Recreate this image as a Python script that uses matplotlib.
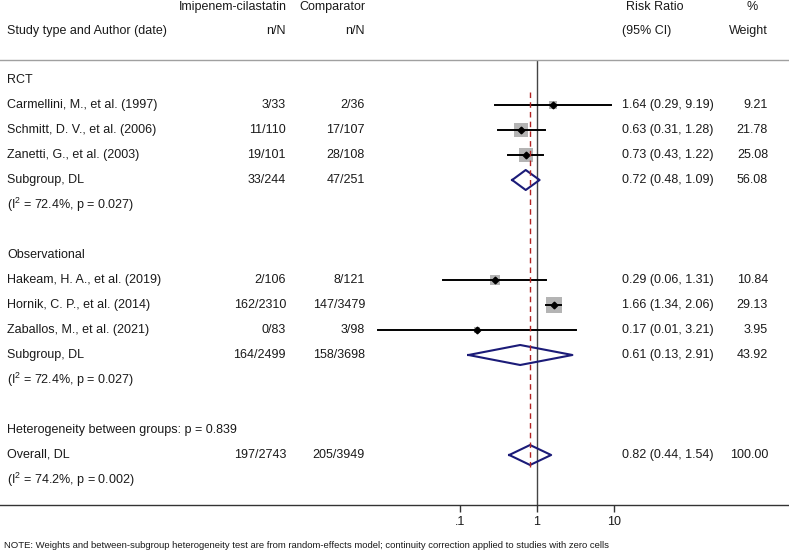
import numpy as np
import matplotlib
matplotlib.use("Agg")
import matplotlib.pyplot as plt
from matplotlib.transforms import blended_transform_factory

plt.rcParams['font.family'] = 'Liberation Sans'
plt.rcParams['mathtext.fontset'] = 'custom'
plt.rcParams['mathtext.rm'] = 'Liberation Sans'
plt.rcParams['mathtext.default'] = 'regular'

# study level data
groups = ["RCT", "Observational"]
study_labels = [["Carmellini, M., et al. (1997)", "Schmitt, D. V., et al. (2006)", "Zanetti, G., et al. (2003)"],
                ["Hakeam, H. A., et al. (2019)", "Hornik, C. P., et al. (2014)", "Zaballos, M., et al. (2021)"]]
imi_nN = [["3/33", "11/110", "19/101"], ["2/106", "162/2310", "0/83"]]
comp_nN = [["2/36", "17/107", "28/108"], ["8/121", "147/3479", "3/98"]]
rr = [[1.64, 0.63, 0.73], [0.29, 1.66, 0.17]]
rr_lo = [[0.29, 0.31, 0.43], [0.06, 1.34, 0.0086]]
rr_hi = [[9.19, 1.28, 1.22], [1.31, 2.06, 3.21]]
weight = [[9.21, 21.78, 25.08], [10.84, 29.13, 3.95]]

# subgroup pooled
sub_imi = ["33/244", "164/2499"]
sub_comp = ["47/251", "158/3698"]
sub_rr = [0.72, 0.61]
sub_lo = [0.48, 0.13]
sub_hi = [1.09, 2.91]
sub_w = [56.08, 43.92]
sub_het = ["(I$^{2}$ = 72.4%, p = 0.027)", "(I$^{2}$ = 72.4%, p = 0.027)"]

# overall
between_txt = "Heterogeneity between groups: p = 0.839"
ov_imi = "197/2743"
ov_comp = "205/3949"
ov_rr, ov_lo, ov_hi, ov_w = 0.82, 0.44, 1.54, 100.00
ov_het = "(I$^{2}$ = 74.2%, p = 0.002)"

note = ("NOTE: Weights and between-subgroup heterogeneity test are from random-effects model; "
        "continuity correction applied to studies with zero cells")

W, H = 789, 551
fig = plt.figure(figsize=(W / 100, H / 100), dpi=100)
ax = fig.add_axes([0, 46 / H, 1, 505 / H])
ax.set_xscale('log')
x0 = 536.7
dec = 77.0
ax.set_xlim(10 ** (-x0 / dec), 10 ** ((W - x0) / dec))
ax.set_ylim(17, -3.2)

tr = blended_transform_factory(fig.transFigure, ax.transData)
fs = 9
tc = '#1a1a1a'
diam_c = '#1b1b78'


def px(x):
    return x / W


def txt(x, y, s, ha='left', size=fs):
    ax.text(px(x), y, s, transform=tr, ha=ha, va='center', fontsize=size, color=tc)


# header
txt(287, -2.92, "Imipenem-cilastatin", ha='right')
txt(365, -2.92, "Comparator", ha='right')
txt(626, -2.92, "Risk Ratio")
txt(758, -2.92, "%", ha='right')
txt(7, -1.96, "Study type and Author (date)")
txt(286, -1.96, "n/N", ha='right')
txt(365, -1.96, "n/N", ha='right')
txt(622, -1.96, "(95% CI)")
txt(768, -1.96, "Weight", ha='right')
ax.axhline(-0.8, color='#a0a0a0', lw=1.0)


def row_text(r, label, a, b, est, lo, hi, w):
    txt(7, r, label)
    txt(286, r, a, ha='right')
    txt(365, r, b, ha='right')
    txt(622, r, "%.2f (%.2f, %.2f)" % (est, lo, hi))
    txt(768, r, "%.2f" % w, ha='right')


def diamond(r, est, lo, hi):
    ax.plot([lo, est, hi, est, lo], [r, r - 0.4, r, r + 0.4, r], color=diam_c, lw=1.5, zorder=5)


row = 0
for g in range(len(groups)):
    txt(7, row, groups[g])
    row += 1
    for i in range(len(study_labels[g])):
        row_text(row, study_labels[g][i], imi_nN[g][i], comp_nN[g][i],
                 rr[g][i], rr_lo[g][i], rr_hi[g][i], weight[g][i])
        side = 2.8 * np.sqrt(weight[g][i]) * 0.72
        ax.scatter([rr[g][i]], [row], marker='s', s=side ** 2, color='#b4b4b4', lw=0, zorder=2)
        ax.plot([rr_lo[g][i], rr_hi[g][i]], [row, row], color='black', lw=1.4, zorder=3)
        ax.plot([rr[g][i]], [row], marker='D', ms=3.4, color='black', lw=0, zorder=4)
        row += 1
    row_text(row, "Subgroup, DL", sub_imi[g], sub_comp[g], sub_rr[g], sub_lo[g], sub_hi[g], sub_w[g])
    diamond(row, sub_rr[g], sub_lo[g], sub_hi[g])
    row += 1
    txt(7, row, sub_het[g])
    row += 2

txt(7, row, between_txt)
row += 1
row_text(row, "Overall, DL", ov_imi, ov_comp, ov_rr, ov_lo, ov_hi, ov_w)
diamond(row, ov_rr, ov_lo, ov_hi)
ov_row = row
row += 1
txt(7, row, ov_het)

# reference lines
ax.vlines(1, -0.8, 17, color='#444444', lw=1.0, zorder=1)
ax.vlines(ov_rr, 0.5, ov_row + 0.5, color='#b22222', lw=1.0, linestyles=(0, (4, 3)), zorder=6)

for s in ['top', 'left', 'right']:
    ax.spines[s].set_visible(False)
ax.spines['bottom'].set_color('#333333')
ax.spines['bottom'].set_linewidth(1.0)
ax.set_yticks([])
ax.set_xticks([0.1, 1, 10])
ax.set_xticklabels([".1", "1", "10"])
ax.xaxis.set_minor_locator(matplotlib.ticker.NullLocator())
ax.tick_params(axis='x', length=5, width=1.0, color='#333333', labelsize=9, labelcolor=tc, pad=3)
ax.patch.set_alpha(0)

fig.text(3.5 / W, 1 - 545 / H, note, ha='left', va='center', fontsize=6.8, color=tc)

fig.savefig("out.png", dpi=100)
